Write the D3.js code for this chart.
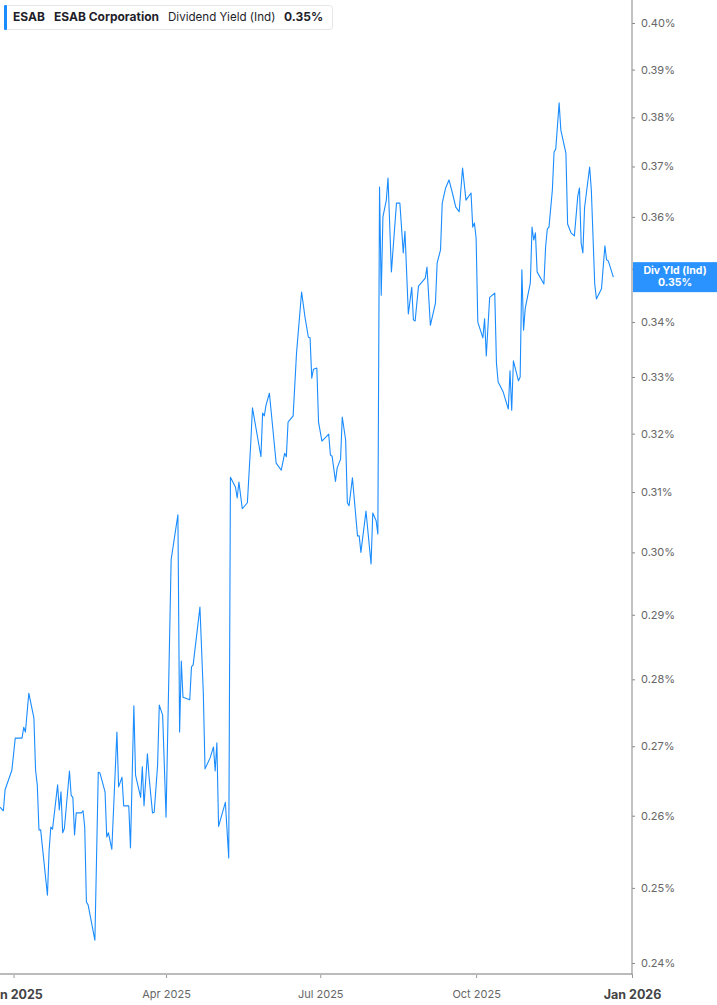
<!DOCTYPE html>
<html>
<head>
<meta charset="utf-8">
<script src="https://cdn.jsdelivr.net/npm/d3@7"></script>
<style>
  body { margin: 0; background: #fff; }
  text { font-family: Inter, "Noto Sans", sans-serif; }
</style>
</head>
<body>
<svg id="chart" width="717" height="1005"></svg>
<script>
// ESAB dividend yield (ind), values in percent
var dates = [
  "2024-12-24","2024-12-26","2024-12-27","2024-12-31","2025-01-02","2025-01-06","2025-01-07","2025-01-08",
  "2025-01-10","2025-01-13","2025-01-14","2025-01-15","2025-01-16","2025-01-17","2025-01-21","2025-01-22",
  "2025-01-23","2025-01-24","2025-01-27","2025-01-28","2025-01-29","2025-01-30","2025-01-31","2025-02-03",
  "2025-02-04","2025-02-05","2025-02-06","2025-02-07","2025-02-10","2025-02-11","2025-02-12","2025-02-13",
  "2025-02-14","2025-02-18","2025-02-20","2025-02-21","2025-02-24","2025-02-25","2025-02-26","2025-02-28",
  "2025-03-03","2025-03-04","2025-03-06","2025-03-07","2025-03-10","2025-03-11","2025-03-13","2025-03-14",
  "2025-03-17","2025-03-18","2025-03-19","2025-03-21","2025-03-22","2025-03-24","2025-03-25","2025-03-27",
  "2025-03-28","2025-03-30","2025-04-01","2025-04-04","2025-04-06","2025-04-08","2025-04-09","2025-04-10",
  "2025-04-11","2025-04-15","2025-04-16","2025-04-17","2025-04-21","2025-04-23","2025-04-24","2025-04-27",
  "2025-04-29","2025-04-30","2025-05-01","2025-05-02","2025-05-06","2025-05-08","2025-05-09","2025-05-12",
  "2025-05-13","2025-05-14","2025-05-16","2025-05-19","2025-05-21","2025-05-22","2025-05-27","2025-05-28",
  "2025-05-29","2025-05-30","2025-06-01","2025-06-05","2025-06-08","2025-06-10","2025-06-11","2025-06-12",
  "2025-06-15","2025-06-17","2025-06-20","2025-06-22","2025-06-24","2025-06-25","2025-06-26","2025-06-27",
  "2025-06-29","2025-06-30","2025-07-02","2025-07-06","2025-07-07","2025-07-08","2025-07-10","2025-07-11",
  "2025-07-13","2025-07-14","2025-07-16","2025-07-17","2025-07-18","2025-07-20","2025-07-23","2025-07-24",
  "2025-07-25","2025-07-28","2025-07-31","2025-08-01","2025-08-03","2025-08-04","2025-08-05","2025-08-06",
  "2025-08-07","2025-08-09","2025-08-10","2025-08-12","2025-08-15","2025-08-17","2025-08-19","2025-08-20",
  "2025-08-22","2025-08-24","2025-08-25","2025-08-26","2025-08-28","2025-09-01","2025-09-02","2025-09-04",
  "2025-09-07","2025-09-08","2025-09-10","2025-09-11","2025-09-13","2025-09-15","2025-09-17","2025-09-19",
  "2025-09-21","2025-09-23","2025-09-25","2025-09-28","2025-09-29","2025-09-30","2025-10-01","2025-10-02",
  "2025-10-05","2025-10-06","2025-10-07","2025-10-09","2025-10-12","2025-10-13","2025-10-14","2025-10-17",
  "2025-10-20","2025-10-21","2025-10-22","2025-10-23","2025-10-26","2025-10-27","2025-10-28","2025-10-29",
  "2025-10-30","2025-11-02","2025-11-03","2025-11-04","2025-11-05","2025-11-06","2025-11-10","2025-11-11",
  "2025-11-12","2025-11-13","2025-11-15","2025-11-16","2025-11-17","2025-11-19","2025-11-20","2025-11-23",
  "2025-11-24","2025-11-26","2025-11-28","2025-11-30","2025-12-01","2025-12-02","2025-12-03","2025-12-04",
  "2025-12-07","2025-12-08","2025-12-10","2025-12-11","2025-12-14","2025-12-16","2025-12-17","2025-12-18",
  "2025-12-21"
];

var yields = [
  0.2612,0.2607,0.2637,0.2665,0.2712,0.2712,0.2728,0.2721,
  0.2779,0.2742,0.2665,0.2644,0.2580,0.2580,0.2490,0.2552,
  0.2584,0.2581,0.2644,0.2608,0.2634,0.2576,0.2582,0.2664,
  0.2629,0.2626,0.2573,0.2604,0.2604,0.2607,0.2584,0.2481,
  0.2477,0.2430,0.2662,0.2661,0.2634,0.2570,0.2576,0.2553,
  0.2721,0.2641,0.2655,0.2614,0.2614,0.2555,0.2760,0.2658,
  0.2626,0.2670,0.2614,0.2689,0.2655,0.2604,0.2605,0.2672,
  0.2761,0.2746,0.2598,0.2988,0.3025,0.3062,0.2721,0.2828,
  0.2773,0.2769,0.2819,0.2822,0.2912,0.2779,0.2667,0.2683,
  0.2699,0.2664,0.2705,0.2585,0.2619,0.2541,0.3125,0.3108,
  0.3090,0.3117,0.3072,0.3082,0.3184,0.3245,0.3160,0.3236,
  0.3231,0.3250,0.3271,0.3149,0.3137,0.3166,0.3160,0.3220,
  0.3231,0.3343,0.3456,0.3409,0.3372,0.3371,0.3298,0.3314,
  0.3316,0.3220,0.3187,0.3199,0.3163,0.3161,0.3118,0.3141,
  0.3156,0.3229,0.3189,0.3082,0.3077,0.3124,0.3027,0.3027,
  0.3000,0.3068,0.2981,0.3065,0.3052,0.3030,0.3659,0.3450,
  0.3600,0.3633,0.3677,0.3494,0.3627,0.3627,0.3530,0.3572,
  0.3415,0.3465,0.3404,0.3402,0.3467,0.3482,0.3503,0.3394,
  0.3435,0.3511,0.3536,0.3627,0.3657,0.3673,0.3647,0.3619,
  0.3610,0.3697,0.3633,0.3647,0.3580,0.3588,0.3559,0.3400,
  0.3371,0.3406,0.3338,0.3446,0.3454,0.3325,0.3291,0.3273,
  0.3243,0.3311,0.3241,0.3329,0.3293,0.3300,0.3498,0.3385,
  0.3426,0.3473,0.3580,0.3555,0.3569,0.3494,0.3471,0.3541,
  0.3576,0.3580,0.3653,0.3729,0.3735,0.3830,0.3774,0.3727,
  0.3586,0.3569,0.3563,0.3641,0.3657,0.3549,0.3530,0.3618,
  0.3699,0.3653,0.3471,0.3443,0.3462,0.3544,0.3517,0.3515,
  0.3484
];

var yTicks = [0.24, 0.25, 0.26, 0.27, 0.28, 0.29, 0.30, 0.31, 0.32, 0.33, 0.34, 0.35, 0.36, 0.37, 0.38, 0.39, 0.40];
var xTicks = ["2025-01-01", "2025-04-01", "2025-07-01", "2025-10-01", "2026-01-01"];
var xDomain = ["2024-12-24", "2026-01-01"];

var lineColor = "#1a8cff";
var parse = d3.timeParse("%Y-%m-%d");

var data = dates.map(function(d, i) {
    return {date: parse(d), value: yields[i]};
});

var plotRight = 632, plotBottom = 974;

var svg = d3.select("#chart");

var x = d3.scaleTime()
    .domain(xDomain.map(parse))
    .range([0, plotRight]);

var y = d3.scaleLog()
    .domain([0.24, 0.40])
    .range([963, 23]);

// y axis on the right
var yAxis = svg.append("g")
    .attr("transform", "translate(" + plotRight + ",0)")
    .call(d3.axisRight(y)
        .tickValues(yTicks)
        .tickSize(3)
        .tickSizeOuter(0)
        .tickPadding(6)
        .tickFormat(function(d) { return d.toFixed(2) + "%"; }));
yAxis.select(".domain").remove();
yAxis.selectAll(".tick line").attr("stroke", "#888");
yAxis.selectAll(".tick text")
    .attr("fill", "#666")
    .style("font-size", "11px");

// x axis
var xAxis = svg.append("g")
    .attr("transform", "translate(0," + plotBottom + ")")
    .call(d3.axisBottom(x)
        .tickValues(xTicks.map(parse))
        .tickSize(4)
        .tickSizeOuter(0)
        .tickPadding(12)
        .tickFormat(d3.timeFormat("%b %Y")));
xAxis.select(".domain").remove();
xAxis.selectAll(".tick line").attr("stroke", "#999");
xAxis.selectAll(".tick text")
    .attr("fill", function(d) { return d.getMonth() === 0 ? "#444" : "#666"; })
    .style("font-size", function(d) { return d.getMonth() === 0 ? "12.5px" : "11px"; })
    .style("font-weight", function(d) { return d.getMonth() === 0 ? "700" : "400"; });

// frame lines
svg.append("line")
    .attr("x1", 0).attr("x2", plotRight)
    .attr("y1", plotBottom).attr("y2", plotBottom)
    .attr("stroke", "#bbb").attr("stroke-width", 2);
svg.append("line")
    .attr("x1", plotRight).attr("x2", plotRight)
    .attr("y1", 0).attr("y2", plotBottom + 1)
    .attr("stroke", "#999").attr("stroke-width", 1.2);

// the series
var line = d3.line()
    .x(function(d) { return x(d.date); })
    .y(function(d) { return y(d.value); });

svg.append("path")
    .datum(data)
    .attr("d", line)
    .attr("fill", "none")
    .attr("stroke", lineColor)
    .attr("stroke-width", 1.1)
    .attr("stroke-linejoin", "round");

// last value badge
var last = data[data.length - 1];
var by = y(last.value);
var badge = svg.append("g");
badge.append("rect")
    .attr("x", plotRight + 1).attr("y", by - 15)
    .attr("width", 717 - plotRight).attr("height", 30)
    .attr("fill", "#1e8cff").attr("opacity", 0.94);
badge.append("text")
    .attr("x", 675).attr("y", by - 3)
    .attr("text-anchor", "middle")
    .attr("fill", "#fff")
    .style("font-size", "10.5px").style("font-weight", "700")
    .text("Div Yld (Ind)");
badge.append("text")
    .attr("x", 675).attr("y", by + 9)
    .attr("text-anchor", "middle")
    .attr("fill", "#fff")
    .style("font-size", "10.5px").style("font-weight", "700")
    .text(last.value.toFixed(2) + "%");

// legend
var legend = svg.append("g");
legend.append("rect")
    .attr("x", 4.5).attr("y", 5.5)
    .attr("width", 328).attr("height", 24)
    .attr("rx", 3)
    .attr("fill", "#fff").attr("stroke", "#e6e6e6");
legend.append("rect")
    .attr("x", 4).attr("y", 5)
    .attr("width", 3).attr("height", 25)
    .attr("rx", 1)
    .attr("fill", lineColor);

var legendItems = [
    {text: "ESAB", x: 13, bold: true},
    {text: "ESAB Corporation", x: 54, bold: true},
    {text: "Dividend Yield (Ind)", x: 168, bold: false},
    {text: last.value.toFixed(2) + "%", x: 284, bold: true}
];
legend.selectAll("text.item")
    .data(legendItems)
    .enter()
    .append("text")
    .attr("class", "item")
    .attr("x", function(d) { return d.x; })
    .attr("y", 21)
    .attr("fill", "#1f1f2b")
    .style("font-size", function(d) { return d.bold ? "12px" : "11.6px"; })
    .style("font-weight", function(d) { return d.bold ? "700" : "400"; })
    .text(function(d) { return d.text; });
</script>
</body>
</html>
